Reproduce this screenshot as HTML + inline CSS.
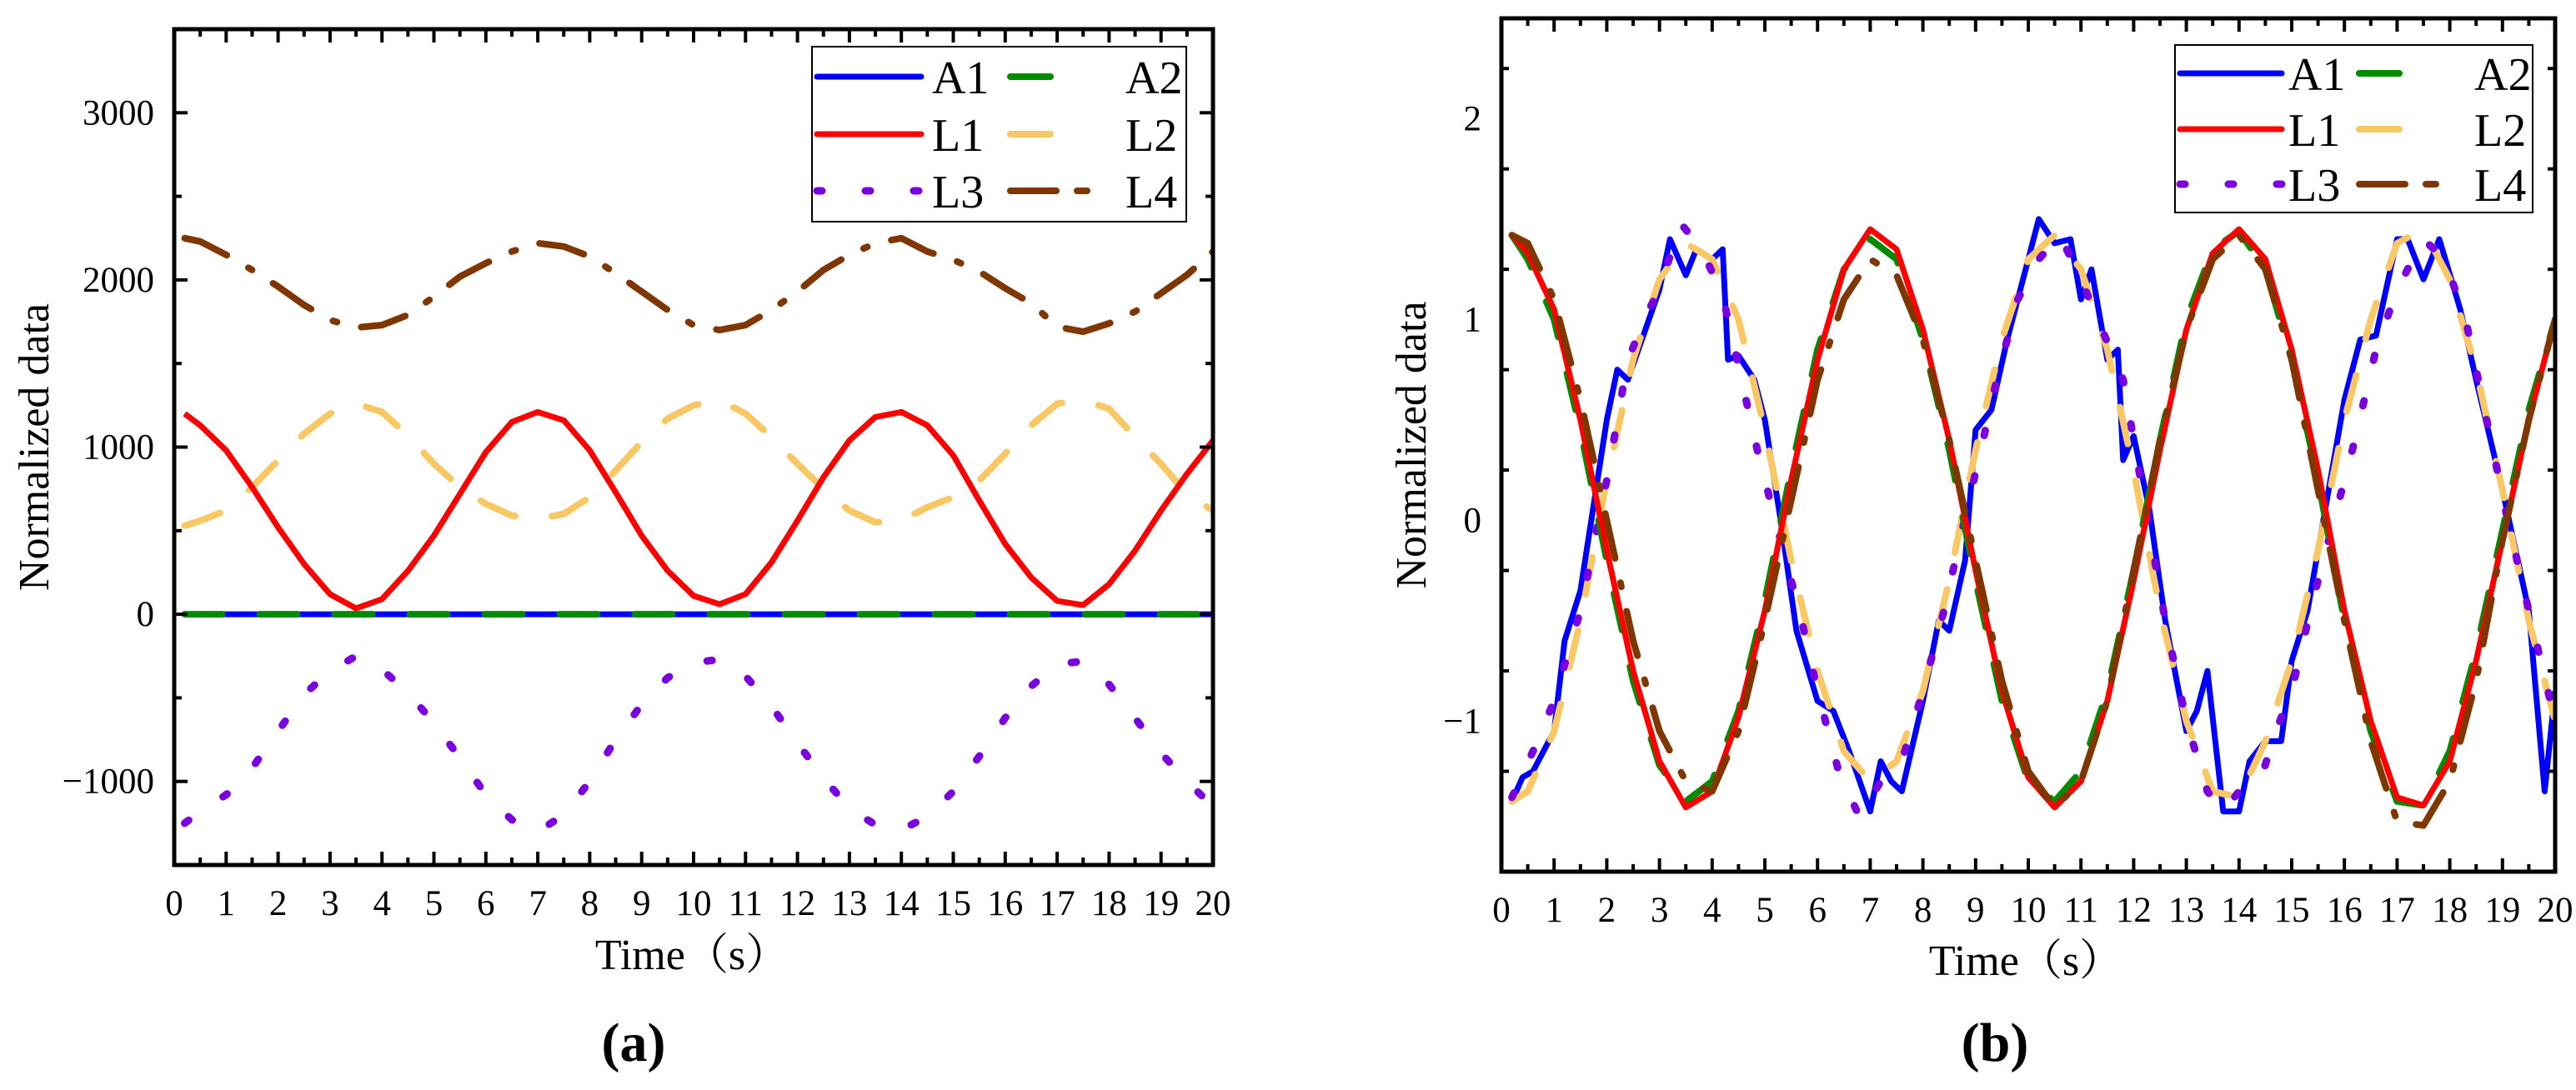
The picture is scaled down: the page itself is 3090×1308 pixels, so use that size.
<!DOCTYPE html>
<html><head><meta charset="utf-8"><style>
html,body{margin:0;padding:0;background:#fff;}
svg text{font-family:"Liberation Serif","Noto Serif CJK SC",serif;fill:#000;}
</style></head><body>
<svg id="fig" width="3090" height="1303" viewBox="0 0 3090 1303" xmlns="http://www.w3.org/2000/svg" font-family="'Liberation Serif', 'Noto Serif CJK SC', serif"></svg>
<script>
// ---- Panel (a) data ----
const tA = [0.2,0.5,1,1.5,2,2.5,3,3.5,4,4.5,5,5.5,6,6.5,7,7.5,8,8.5,9,9.5,10,10.5,11,11.5,12,12.5,13,13.5,14,14.5,15,15.5,16,16.5,17,17.5,18,18.5,19,19.5,20];
const aA1 = [0,0,0,0,0,0,0,0,0,0,0,0,0,0,0,0,0,0,0,0,0,0,0,0,0,0,0,0,0,0,0,0,0,0,0,0,0,0,0,0,0];
const aA2 = [0,0,0,0,0,0,0,0,0,0,0,0,0,0,0,0,0,0,0,0,0,0,0,0,0,0,0,0,0,0,0,0,0,0,0,0,0,0,0,0,0];
const aL1 = [1200,1130,980,760,520,300,120,35,90,260,470,720,970,1150,1210,1160,980,730,470,260,110,60,120,310,560,820,1040,1180,1210,1130,950,680,420,220,80,55,180,380,620,840,1040];
const aL2 = [530,560,620,760,920,1080,1200,1260,1210,1070,900,760,660,590,570,600,700,860,1030,1170,1250,1280,1200,1060,900,750,620,550,560,640,700,800,960,1130,1260,1280,1230,1060,900,720,620];
const aL3 = [-1250,-1180,-1080,-920,-700,-480,-340,-250,-330,-470,-650,-860,-1080,-1230,-1300,-1200,-1000,-750,-540,-380,-290,-270,-370,-550,-770,-980,-1160,-1260,-1290,-1210,-1060,-850,-620,-430,-300,-280,-420,-620,-830,-1000,-1150];
const aL4 = [2250,2230,2150,2060,1960,1850,1760,1715,1730,1790,1900,2020,2100,2170,2220,2200,2140,2040,1930,1820,1730,1700,1730,1820,1930,2060,2150,2220,2250,2170,2120,2050,1950,1860,1720,1690,1740,1810,1920,2030,2170];
const aYTicks = [-1000,0,1000,2000,3000];
const aYLabels = ["\u22121000","0","1000","2000","3000"];
// ---- Panel (b) data ----
const tB = tA;
const bL1 = [1.42,1.33,1.05,0.5,-0.15,-0.75,-1.2,-1.43,-1.35,-0.98,-0.45,0.2,0.8,1.25,1.45,1.35,0.95,0.4,-0.25,-0.85,-1.28,-1.43,-1.3,-0.9,-0.3,0.35,0.95,1.33,1.45,1.3,0.85,0.25,-0.45,-1.0,-1.38,-1.42,-1.2,-0.7,-0.1,0.5,1.0];
const bA2 = [1.42,1.3,1.0,0.45,-0.2,-0.8,-1.22,-1.4,-1.3,-0.95,-0.4,0.25,0.85,1.25,1.4,1.3,0.9,0.35,-0.3,-0.9,-1.3,-1.4,-1.25,-0.85,-0.25,0.4,1.0,1.35,1.44,1.25,0.8,0.2,-0.5,-1.05,-1.4,-1.42,-1.15,-0.65,-0.05,0.55,1.0];
const bL4 = [1.42,1.38,1.1,0.6,0.0,-0.6,-1.05,-1.3,-1.35,-1.05,-0.5,0.1,0.7,1.1,1.3,1.22,0.9,0.4,-0.2,-0.8,-1.25,-1.43,-1.3,-0.9,-0.25,0.4,0.95,1.3,1.42,1.25,0.8,0.15,-0.5,-1.1,-1.5,-1.52,-1.3,-0.8,-0.1,0.5,1.0];
const tBA1 = [0.2,0.4,0.6,1.0,1.2,1.5,2.0,2.2,2.4,2.6,3.0,3.2,3.5,3.7,4.0,4.2,4.3,4.5,4.8,5.0,5.3,5.6,6.0,6.3,6.6,7.0,7.2,7.4,7.6,8.0,8.3,8.5,8.8,9.0,9.3,9.6,10.0,10.2,10.5,10.8,11.0,11.2,11.5,11.7,11.8,12.0,12.3,12.6,13.0,13.2,13.4,13.7,14.0,14.2,14.5,14.8,15.0,15.3,15.6,16.0,16.3,16.6,17.0,17.2,17.5,17.8,18.2,18.5,19.0,19.5,19.8,20.0];
const bA1 = [-1.4,-1.28,-1.25,-1.05,-0.6,-0.35,0.5,0.75,0.7,0.85,1.15,1.4,1.22,1.35,1.3,1.35,0.8,0.82,0.7,0.5,0.0,-0.55,-0.9,-0.95,-1.15,-1.45,-1.2,-1.3,-1.35,-0.9,-0.5,-0.55,-0.2,0.45,0.55,0.9,1.3,1.5,1.38,1.4,1.1,1.25,0.8,0.85,0.3,0.42,0.05,-0.5,-1.05,-0.95,-0.75,-1.45,-1.45,-1.2,-1.1,-1.1,-0.7,-0.45,0.0,0.6,0.9,0.92,1.4,1.4,1.2,1.4,1.05,0.7,0.15,-0.45,-1.35,-0.85];
const bL2 = [-1.4,-1.35,-1.05,-0.5,0.2,0.8,1.2,1.38,1.3,1.0,0.45,-0.2,-0.75,-1.15,-1.3,-1.2,-0.85,-0.3,0.35,0.9,1.3,1.42,1.25,0.85,0.25,-0.45,-1.0,-1.35,-1.38,-1.1,-0.7,-0.15,0.5,1.0,1.38,1.45,1.2,0.75,0.15,-0.5,-1.0];
const tBL3 = [0.2,0.6,1.0,1.5,2.0,2.4,2.8,3.0,3.4,3.8,4.2,4.6,4.9,5.3,5.7,6.0,6.4,6.8,7.2,7.6,8.0,8.4,8.7,9.1,9.4,9.8,10.2,10.6,11.0,11.4,11.8,12.2,12.6,13.0,13.4,13.7,14.0,14.4,14.7,15.0,15.4,15.8,16.2,16.6,17.0,17.5,17.9,18.3,18.7,19.1,19.5,20.0];
const bL3 = [-1.38,-1.15,-0.9,-0.45,0.2,0.8,1.05,1.15,1.48,1.35,1.12,0.65,0.3,-0.1,-0.5,-0.85,-1.25,-1.48,-1.3,-1.2,-0.85,-0.45,-0.1,0.35,0.7,1.1,1.3,1.42,1.2,0.95,0.7,0.1,-0.5,-1.0,-1.35,-1.45,-1.35,-1.3,-1.05,-0.85,-0.4,0.0,0.4,0.85,1.15,1.4,1.3,1.0,0.5,0.0,-0.45,-1.0];
const bYTicks = [-1,0,1,2];
const bYLabels = ["\u22121","0","1","2"];
const xTicks = [0,1,2,3,4,5,6,7,8,9,10,11,12,13,14,15,16,17,18,19,20];

const NS = "http://www.w3.org/2000/svg";
const svg = document.getElementById('fig');
const FONT = "'Liberation Serif', 'Noto Serif CJK SC', serif";
function mk(tag, attrs, parent){const e=document.createElementNS(NS,tag);for(const k in attrs)e.setAttribute(k,attrs[k]);if(tag==='text')e.setAttribute('font-family',FONT);(parent||svg).appendChild(e);return e;}

const styles = {
  A1:{c:'#0000ff',d:'',w:7},
  A2:{c:'#008c00',d:'45 45',w:8},
  L1:{c:'#ff0000',d:'',w:7},
  L2:{c:'#f9c764',d:'45 45',w:8},
  L3:{c:'#7b00e0',d:'6 50',w:9},
  L4:{c:'#803600',d:'55 30 5 30',w:8}
};

function panel(cfg){
  const g = mk('g',{});
  
  
  const {x0,x1,y0,y1,ymin,ymax} = cfg;
  const sx = v => x0 + (v-0)/(20-0)*(x1-x0);
  const sy = v => y1 - (v-ymin)/(ymax-ymin)*(y1-y0);
  const cp = mk('clipPath',{id:cfg.name+'-clip'},g);
  mk('rect',{x:x0,y:y0,width:x1-x0,height:y1-y0},cp);
  const sg = mk('g',{'clip-path':'url(#'+cfg.name+'-clip)'},g);
  cfg.series.forEach(s=>{
    const st = styles[s.key];
    let d='';
    s.t.forEach((t,i)=>{d+=(i?'L':'M')+sx(t).toFixed(1)+' '+sy(s.v[i]).toFixed(1);});
    const p = mk('path',{d:d,fill:'none',stroke:st.c,'stroke-width':st.w,'stroke-linecap':st.d?'round':'butt','stroke-linejoin':'round'},sg);
    if(st.d) p.setAttribute('stroke-dasharray',st.d);
    
    
  });
  const fr = mk('rect',{x:x0,y:y0,width:x1-x0,height:y1-y0,fill:'none',stroke:'#000','stroke-width':5},g);
  
  
  for(let v=0; v<=20.001; v+=0.5){
    const major = Math.abs(v-Math.round(v))<1e-6;
    const L = major?16:9;
    const X = sx(v);
    mk('line',{x1:X,y1:y1,x2:X,y2:y1-L,stroke:'#000','stroke-width':4},g);
    mk('line',{x1:X,y1:y0,x2:X,y2:y0+L,stroke:'#000','stroke-width':4},g);
  }
  xTicks.forEach(v=>{
    const t = mk('text',{x:sx(v),y:y1+60,'font-size':43,'text-anchor':'middle'},g);
    t.textContent = String(v);
    
    
  });
  const step = cfg.yMinor;
  for(let v=ymin; v<=ymax+1e-9; v+=step){
    const major = Math.abs(v/cfg.yMajor-Math.round(v/cfg.yMajor))<1e-6;
    const L = major?16:9;
    const Y = sy(v);
    mk('line',{x1:x0,y1:Y,x2:x0+L,y2:Y,stroke:'#000','stroke-width':4},g);
    mk('line',{x1:x1,y1:Y,x2:x1-L,y2:Y,stroke:'#000','stroke-width':4},g);
  }
  cfg.yTicks.forEach((v,i)=>{
    const t = mk('text',{x:x0-24,y:sy(v)+14,'font-size':43,'text-anchor':'end'},g);
    t.textContent = cfg.yLabels[i];
    
    
  });
  const yt = mk('text',{x:0,y:0,'font-size':52,'text-anchor':'middle',transform:'translate('+cfg.ytx+','+((y0+y1)/2)+') rotate(-90)'},g);
  yt.textContent = 'Normalized data';
  
  
  const xt = mk('text',{x:cfg.xtx,y:cfg.xty,'font-size':52,'text-anchor':'middle'},g);
  xt.textContent = 'Time（s）';
  
  
  const pl = mk('text',{x:cfg.plx,y:1273,'font-size':66,'text-anchor':'middle','font-weight':'bold'},g);
  pl.textContent = cfg.label;
  
  
  const lg = mk('g',{},g);
  
  
  const L = cfg.leg;
  mk('rect',{x:L.x,y:L.y,width:L.w,height:L.h,fill:'#fff',stroke:'#000','stroke-width':2},lg);
  const entries = [['A1','A2'],['L1','L2'],['L3','L4']];
  entries.forEach((row,r)=>{
    row.forEach((k,c)=>{
      const eg = mk('g',{},lg);
      
      
      const st = styles[k];
      const yy = L.rows[r];
      const lx = L.cols[c];
      const ln = mk('line',{x1:lx,y1:yy,x2:lx+L.len,y2:yy,stroke:st.c,'stroke-width':st.w,'stroke-linecap':'round'},eg);
      if(st.d){
        const dd = {A2:'48 98',L2:'48 98',L3:'6 52',L4:'55 25 12 60'}[k];
        ln.setAttribute('stroke-dasharray',dd);
      }
      const tx = mk('text',{x:L.tx[c],y:yy+20,'font-size':56},eg);
      tx.textContent = k;
    });
  });
  return g;
}

panel({name:'panel-a',x0:209,x1:1455,y0:35,y1:1038,ymin:-1500,ymax:3500,yMajor:1000,yMinor:500,
  yTicks:aYTicks,yLabels:aYLabels,ytx:58,xtx:830,xty:1163,plx:760,label:'(a)',
  leg:{x:974,y:56,w:449,h:210,rows:[92,161,229],cols:[980,1212],len:125,tx:[1118,1350]},
  series:[{key:'L4',t:tA,v:aL4},{key:'L3',t:tA,v:aL3},{key:'L2',t:tA,v:aL2},{key:'L1',t:tA,v:aL1},{key:'A1',t:tA,v:aA1},{key:'A2',t:tA,v:aA2}]
});
panel({name:'panel-b',x0:1801,x1:3065,y0:22,y1:1046,ymin:-1.75,ymax:2.5,yMajor:1,yMinor:0.5,
  yTicks:bYTicks,yLabels:bYLabels,ytx:1710,xtx:2430,xty:1170,plx:2393,label:'(b)',
  leg:{x:2609,y:54,w:429,h:201,rows:[88,155,221],cols:[2615,2830],len:122,tx:[2745,2968]},
  series:[{key:'A1',t:tBA1,v:bA1},{key:'L2',t:tB,v:bL2},{key:'L3',t:tBL3,v:bL3},{key:'A2',t:tB,v:bA2},{key:'L1',t:tB,v:bL1},{key:'L4',t:tB,v:bL4}]
});
</script>
</body></html>
